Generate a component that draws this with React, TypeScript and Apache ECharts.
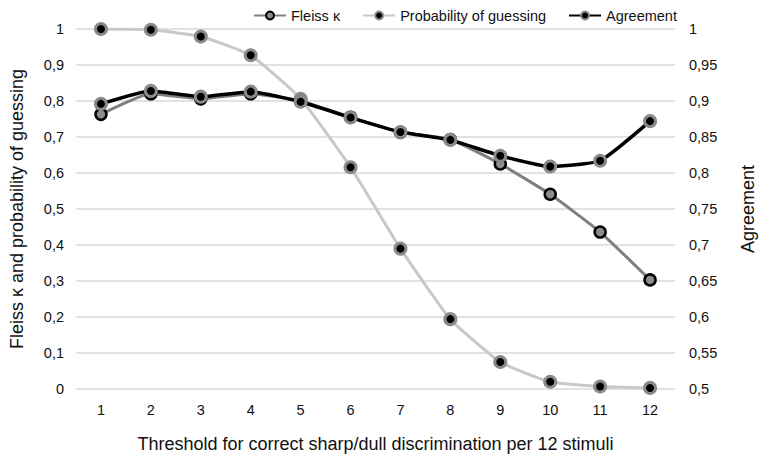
import React, { useEffect, useRef } from "react";
import * as echarts from "echarts";

const categories = ["1", "2", "3", "4", "5", "6", "7", "8", "9", "10", "11", "12"];
const fleissKappa = [0.763, 0.82, 0.806, 0.82, 0.8, 0.755, 0.713, 0.693, 0.625, 0.541, 0.436, 0.303];
const probGuessing = [1.0, 0.998, 0.979, 0.927, 0.806, 0.616, 0.39, 0.194, 0.075, 0.02, 0.007, 0.003];
const agreement = [0.896, 0.914, 0.906, 0.913, 0.899, 0.877, 0.857, 0.846, 0.824, 0.809, 0.817, 0.872];

const seriesNames = ["Fleiss \u03ba", "Probability of guessing", "Agreement"];
const xAxisTitle = "Threshold for correct sharp/dull discrimination per 12 stimuli";
const leftAxisTitle = "Fleiss \u03ba and probability of guessing";
const rightAxisTitle = "Agreement";

const FONT = "'Liberation Sans', Arial, sans-serif";
const fmt = (v: number) => String(Math.round(v * 100) / 100).replace(".", ",");

export default function App() {
  const ref = useRef<HTMLDivElement>(null);
  useEffect(() => {
    if (!ref.current) return;
    const chart = echarts.init(ref.current, null, { renderer: "svg" });
    chart.setOption({
      animation: false,
      backgroundColor: "#ffffff",
      textStyle: { fontFamily: FONT },
      legend: {
        top: 3,
        left: 248,
        itemWidth: 32,
        itemHeight: 10,
        itemGap: 22,
        textStyle: { fontFamily: FONT, fontSize: 14.5, color: "#111" },
        data: seriesNames,
      },
      grid: { left: 62, right: 76, top: 29, bottom: 62 },
      xAxis: {
        type: "category",
        data: categories,
        boundaryGap: true,
        axisLine: { show: false },
        axisTick: { show: false },
        axisLabel: { margin: 13, fontSize: 14.5, color: "#111", fontFamily: FONT },
        name: xAxisTitle,
        nameLocation: "middle",
        nameGap: 46,
        nameTextStyle: { fontSize: 18, color: "#111", fontFamily: FONT },
      },
      yAxis: [
        {
          type: "value",
          min: 0,
          max: 1,
          interval: 0.1,
          axisLine: { show: false },
          axisTick: { show: false },
          axisLabel: { margin: 12, fontSize: 14.5, color: "#111", fontFamily: FONT, formatter: fmt },
          splitLine: { lineStyle: { color: "#d9d9d9", width: 1.5 } },
          name: leftAxisTitle,
          nameLocation: "middle",
          nameGap: 50,
          nameTextStyle: { fontSize: 18, color: "#111", fontFamily: FONT },
        },
        {
          type: "value",
          min: 0.5,
          max: 1,
          interval: 0.05,
          axisLine: { show: false },
          axisTick: { show: false },
          axisLabel: { margin: 14, fontSize: 14.5, color: "#111", fontFamily: FONT, formatter: fmt },
          splitLine: { show: false },
          name: rightAxisTitle,
          nameLocation: "middle",
          nameGap: 64,
          nameTextStyle: { fontSize: 18, color: "#111", fontFamily: FONT },
        },
      ],
      series: [
        {
          name: seriesNames[0],
          type: "line",
          yAxisIndex: 0,
          data: fleissKappa,
          smooth: 0.15,
          symbol: "circle",
          symbolSize: 11,
          lineStyle: { color: "#7f7f7f", width: 3 },
          itemStyle: { color: "#8c8c8c", borderColor: "#000000", borderWidth: 2.5 },
          z: 2,
        },
        {
          name: seriesNames[1],
          type: "line",
          yAxisIndex: 0,
          data: probGuessing,
          smooth: 0.15,
          symbol: "circle",
          symbolSize: 11,
          lineStyle: { color: "#c8c8c8", width: 3 },
          itemStyle: { color: "#000000", borderColor: "#8a8a8a", borderWidth: 3 },
          z: 3,
        },
        {
          name: seriesNames[2],
          type: "line",
          yAxisIndex: 1,
          data: agreement,
          smooth: 0.15,
          symbol: "circle",
          symbolSize: 11,
          lineStyle: { color: "#000000", width: 3.5 },
          itemStyle: { color: "#000000", borderColor: "#8a8a8a", borderWidth: 3 },
          z: 4,
        },
      ],
    });
    return () => chart.dispose();
  }, []);
  return (
    <div
      ref={ref}
      style={{ position: "absolute", left: 0, top: 0, width: 765, height: 458 }}
    />
  );
}
